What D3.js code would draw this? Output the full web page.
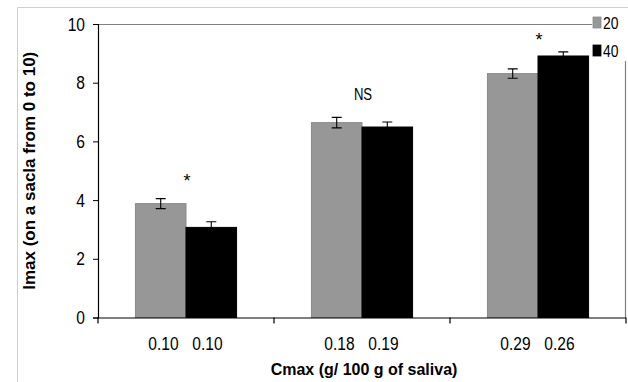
<!DOCTYPE html>
<html>
<head>
<meta charset="utf-8">
<script src="https://cdn.jsdelivr.net/npm/d3@7"></script>
<style>
  html, body { margin: 0; padding: 0; background: #fff; }
  svg { display: block; }
  text { font-family: "Liberation Sans", Arial, sans-serif; }
</style>
</head>
<body>
<svg id="chart" width="628" height="382"></svg>
<script>
// ---- data ----
const groups = ["g1", "g2", "g3"];
const series = ["20", "40"];
const values20 = [3.88, 6.64, 8.31];
const values40 = [3.07, 6.49, 8.91];
const errors20 = [0.17, 0.18, 0.16];
const errors40 = [0.19, 0.17, 0.14];
const cmax20 = ["0.10", "0.18", "0.29"];
const cmax40 = ["0.10", "0.19", "0.26"];
const signif = ["*", "NS", "*"];
const signifLevel = [4.45, 7.42, 9.25];
const yTicks = [0, 2, 4, 6, 8, 10];
const colors = { "20": "#979797", "40": "#000000" };

// ---- layout ----
const svg = d3.select("#chart");
const pLeft = 98, pRight = 626, pTop = 24, pBottom = 317.5;
const NX = 0.82; // condensed text look

const x0 = d3.scaleBand().domain(groups).range([pLeft, pRight]).padding(0);
const x1 = d3.scaleBand().domain(series).range([0, x0.bandwidth()]).paddingInner(0).paddingOuter(0.74);
const y = d3.scaleLinear().domain([0, 10]).range([pBottom, pTop]);

function narrowText(parent, x, yy, txt, size, anchor, sx) {
  return parent.append("text")
    .attr("transform", `translate(${x},${yy}) scale(${sx || NX},1)`)
    .attr("text-anchor", anchor || "middle")
    .attr("font-size", size)
    .attr("fill", "#000")
    .text(txt);
}

// outer frame
svg.append("path")
  .attr("d", `M17.5,382 V7.5 H628`)
  .attr("fill", "none").attr("stroke", "#cfcfcf").attr("stroke-width", 1);

// plot border (top and right), gray
svg.append("line").attr("x1", pLeft).attr("x2", 592).attr("y1", y(10) + 0.5).attr("y2", y(10) + 0.5)
  .attr("stroke", "#808080").attr("stroke-width", 1.2);
svg.append("line").attr("x1", pRight - 0.5).attr("x2", pRight - 0.5).attr("y1", 61).attr("y2", pBottom)
  .attr("stroke", "#808080").attr("stroke-width", 1.2);

// data rows
const rows = groups.map((g, i) => ({
  g,
  bars: [
    { s: "20", v: values20[i], e: errors20[i] },
    { s: "40", v: values40[i], e: errors40[i] }
  ]
}));

const gg = svg.selectAll("g.grp").data(rows).join("g")
  .attr("class", "grp")
  .attr("transform", d => `translate(${x0(d.g)},0)`);

gg.selectAll("rect").data(d => d.bars).join("rect")
  .attr("x", d => x1(d.s))
  .attr("width", x1.bandwidth())
  .attr("y", d => y(d.v))
  .attr("height", d => y(0) - y(d.v))
  .attr("fill", d => colors[d.s])
  .attr("stroke", d => d.s === "20" ? "#8a8a8a" : "#000")
  .attr("stroke-width", 1);

// error bars
const capW = 10;
gg.selectAll("path.err").data(d => d.bars).join("path")
  .attr("class", "err")
  .attr("d", d => {
    const cx = x1(d.s) + x1.bandwidth() / 2;
    const yt = y(d.v + d.e), yb = y(d.v - d.e);
    return `M${cx - capW/2},${yt} H${cx + capW/2} M${cx},${yt} V${yb} M${cx - capW/2},${yb} H${cx + capW/2}`;
  })
  .attr("fill", "none").attr("stroke", "#000").attr("stroke-width", 1.1);

// significance labels
groups.forEach((g, i) => {
  const isNS = signif[i] === "NS";
  narrowText(svg, x0(g) + x0.bandwidth() / 2 + 1, y(signifLevel[i]), signif[i],
    isNS ? 16 : 18, "middle", isNS ? NX : 1);
});

// y axis
const yAxis = d3.axisLeft(y).tickValues(yTicks).tickSize(5).tickPadding(8).tickFormat(d3.format("d"));
const ya = svg.append("g").attr("transform", `translate(${pLeft},0)`).call(yAxis);
ya.attr("font-family", null).attr("font-size", null);
ya.select(".domain").attr("stroke", "#000").attr("stroke-width", 1.2);
ya.selectAll(".tick line").attr("stroke", "#000");
ya.selectAll(".tick text")
  .attr("font-size", 19).attr("fill", "#000")
  .attr("x", -13 / NX)
  .attr("transform", `scale(${NX},1)`);

// x axis line with boundary ticks
svg.append("line").attr("x1", pLeft).attr("x2", pRight).attr("y1", pBottom + 0.5).attr("y2", pBottom + 0.5)
  .attr("stroke", "#000").attr("stroke-width", 1.2);
const boundaries = groups.map(g => x0(g)).concat([pRight]);
svg.selectAll("line.btick").data(boundaries).join("line")
  .attr("class", "btick")
  .attr("x1", d => d).attr("x2", d => d)
  .attr("y1", pBottom).attr("y2", pBottom + 6)
  .attr("stroke", "#000").attr("stroke-width", 1.2);

// x category labels (Cmax values for each concentration)
const lab = svg.append("g");
groups.forEach((g, i) => {
  const c = x0(g) + x0.bandwidth() / 2;
  narrowText(lab, c - 22.5, 350, cmax20[i], 19, "middle");
  narrowText(lab, c + 21.5, 350, cmax40[i], 19, "middle");
});

// axis titles
svg.append("text")
  .attr("x", (pLeft + pRight) / 2 + 2).attr("y", 375)
  .attr("text-anchor", "middle")
  .attr("font-weight", "bold").attr("font-size", 16)
  .text("Cmax (g/ 100 g of saliva)");

svg.append("text")
  .attr("transform", `translate(35,${(pTop + pBottom) / 2}) rotate(-90)`)
  .attr("text-anchor", "middle")
  .attr("font-weight", "bold").attr("font-size", 17)
  .text("Imax (on a sacla from 0 to 10)");

// legend
const leg = svg.append("g").attr("transform", "translate(593,17)");
series.forEach((s, i) => {
  const row = leg.append("g").attr("transform", `translate(0,${i * 28})`);
  row.append("rect").attr("width", 8).attr("height", 11).attr("fill", colors[s])
    .attr("stroke", s === "20" ? "#8a8a8a" : "#000").attr("stroke-width", 0.8);
  narrowText(row, 10, 11.5, s, 17, "start");
});
</script>
</body>
</html>
